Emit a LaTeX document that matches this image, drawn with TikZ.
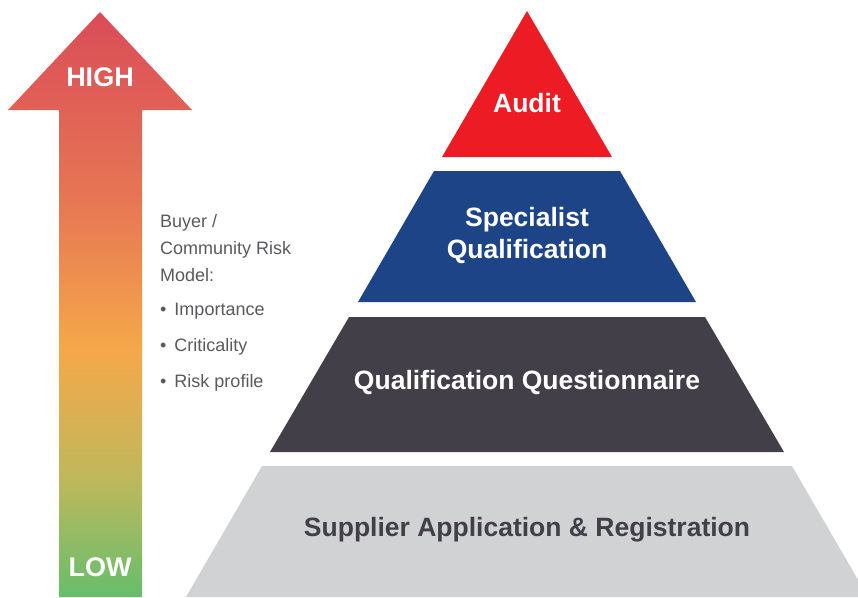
\documentclass[tikz,border=0pt]{standalone}
\usepackage{fontspec}
\setmainfont{Liberation Sans}
\usepackage{tikz}
\usetikzlibrary{positioning}

% Colours of the levels
\definecolor{auditred}{RGB}{237,28,36}
\definecolor{specblue}{RGB}{30,68,136}
\definecolor{qqgray}{RGB}{66,63,73}
\definecolor{reggray}{RGB}{209,210,212}
\definecolor{modeltext}{RGB}{90,90,94}

% Colours of the risk arrow (low -> high)
\definecolor{lowgreen}{RGB}{102,190,108}
\definecolor{olivegreen}{RGB}{190,184,92}
\definecolor{riskorange}{RGB}{245,168,74}
\definecolor{midred}{RGB}{230,118,84}
\definecolor{highred}{RGB}{218,76,88}

\pgfdeclareverticalshading{riskshade}{100bp}{%
  color(0bp)=(lowgreen); color(25bp)=(lowgreen);
  color(35bp)=(olivegreen); color(46bp)=(riskorange);
  color(59bp)=(midred); color(75bp)=(highred); color(100bp)=(highred)}

\begin{document}
\begin{tikzpicture}[x=1pt, y=-1pt,
    level/.style={font=\fontsize{26.5}{32}\selectfont\bfseries, white, align=center},
    arrowlabel/.style={font=\fontsize{27}{30}\selectfont\bfseries, white, anchor=base},
    modelline/.style={font=\fontsize{18}{27}\selectfont, modeltext, anchor=base west, inner sep=0pt}]

\useasboundingbox (0,0) rectangle (858,597);
\clip (0,0) rectangle (858,597);

% Risk arrow
\shade[shading=riskshade] (100,12) -- (192,110) -- (142,110) -- (142,597)
    -- (59,597) -- (59,110) -- (8,110) -- cycle;
\node[arrowlabel] (high) at (100,86) {HIGH};
\node[arrowlabel] (low) at (100,576) {LOW};

% Risk model text (base = last line)
\node[modelline, align=left] (model) at (160,281) {Buyer /\\Community Risk\\Model:};
\node[modelline] (importance) at (160,315) {•\hspace{8pt}Importance};
\node[modelline] (criticality) at (160,351) {•\hspace{8pt}Criticality};
\node[modelline] (riskprofile) at (160,387) {•\hspace{8pt}Risk profile};

% Pyramid levels (top to bottom)
\fill[auditred] (527,11) -- (612,157) -- (442,157) -- cycle;
\node[level, anchor=base] (audit) at (527,112) {Audit};

\fill[specblue] (434,171) -- (620,171) -- (696,302) -- (358,302) -- cycle;
\node[level] (specialist) at (527,236) {Specialist\\Qualification};

\fill[qqgray] (349,317) -- (705,317) -- (784,452) -- (270,452) -- cycle;
\node[level, anchor=base] (questionnaire) at (527,389) {Qualification Questionnaire};

\fill[reggray] (262,466) -- (792,466) -- (868,597) -- (186,597) -- cycle;
\node[level, anchor=base, text=qqgray] (registration) at (527,536) {Supplier Application \& Registration};

\end{tikzpicture}
\end{document}
